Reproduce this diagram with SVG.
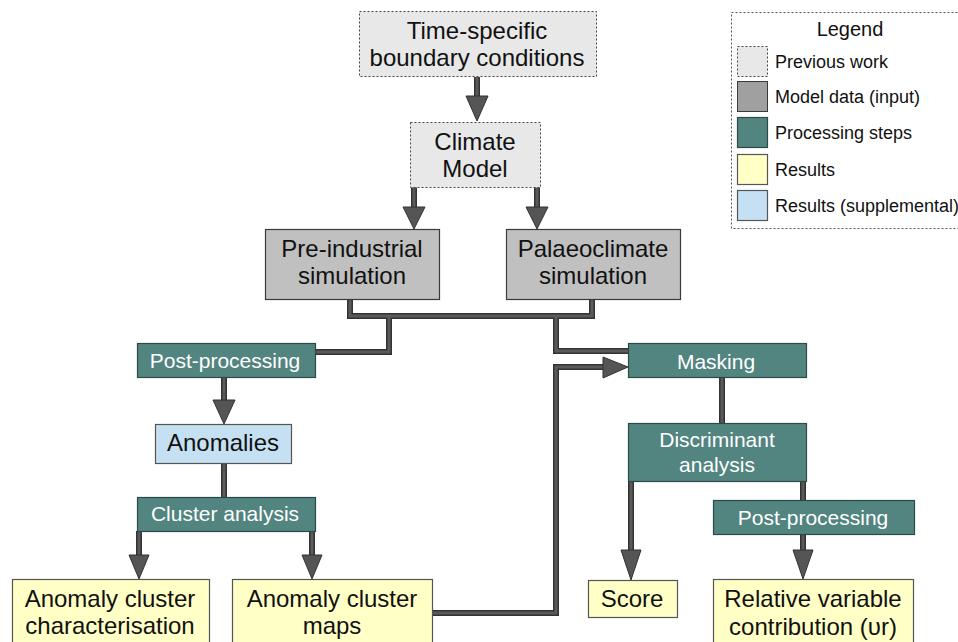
<svg xmlns="http://www.w3.org/2000/svg" xmlns:xlink="http://www.w3.org/1999/xlink" width="958" height="642" viewBox="0 0 958 642">
<style>
text{font-family:"Liberation Sans",Arial,sans-serif;text-anchor:middle;}
.big{font-size:24px;fill:#111;}
.wt{font-size:21px;fill:#fff;}
.lg{font-size:18px;fill:#111;text-anchor:start;}
.prev{fill:#e8e8e8;stroke:#444;stroke-width:1;stroke-dasharray:2,2;}
.model{fill:#c0c0c0;stroke:#3a3a3a;stroke-width:1.2;}
.proc{fill:#528480;stroke:#2d4a47;stroke-width:1.2;}
.res{fill:#ffffc6;stroke:#555;stroke-width:1.2;}
.sup{fill:#c6e0f3;stroke:#555;stroke-width:1.2;}
.co{fill:none;stroke:#333;stroke-width:6;}
.ci{fill:none;stroke:#5a5a5a;stroke-width:3;}
.ah{fill:#555;stroke:#333;stroke-width:1;}
</style>
<defs>
<path id="p1" d="M477,77 V98"/>
<path id="p2" d="M414,187 V209"/>
<path id="p3" d="M537,187 V209"/>
<path id="p4" d="M350,299 V316 H592 V299"/>
<path id="p5" d="M389,316 V352 H315"/>
<path id="p6" d="M556,316 V351 H628"/>
<path id="p7" d="M432,613 H556 V367 H605"/>
<path id="p8" d="M224,377 V402"/>
<path id="p9" d="M224,463 V497"/>
<path id="p10" d="M139,531 V557"/>
<path id="p11" d="M312,531 V557"/>
<path id="p12" d="M722,377 V423"/>
<path id="p13" d="M631,481 V552"/>
<path id="p14" d="M803,481 V500"/>
<path id="p15" d="M803,534 V552"/>
</defs>

<g id="connectors">
<use xlink:href="#p1" class="co"/><use xlink:href="#p2" class="co"/><use xlink:href="#p3" class="co"/>
<use xlink:href="#p4" class="co"/><use xlink:href="#p5" class="co"/><use xlink:href="#p6" class="co"/>
<use xlink:href="#p7" class="co"/><use xlink:href="#p8" class="co"/><use xlink:href="#p9" class="co"/>
<use xlink:href="#p10" class="co"/><use xlink:href="#p11" class="co"/><use xlink:href="#p12" class="co"/>
<use xlink:href="#p13" class="co"/><use xlink:href="#p14" class="co"/><use xlink:href="#p15" class="co"/>
<use xlink:href="#p1" class="ci"/><use xlink:href="#p2" class="ci"/><use xlink:href="#p3" class="ci"/>
<use xlink:href="#p4" class="ci"/><use xlink:href="#p5" class="ci"/><use xlink:href="#p6" class="ci"/>
<use xlink:href="#p7" class="ci"/><use xlink:href="#p8" class="ci"/><use xlink:href="#p9" class="ci"/>
<use xlink:href="#p10" class="ci"/><use xlink:href="#p11" class="ci"/><use xlink:href="#p12" class="ci"/>
<use xlink:href="#p13" class="ci"/><use xlink:href="#p14" class="ci"/><use xlink:href="#p15" class="ci"/>
<polygon class="ah" points="466,96 488,96 477,121"/>
<polygon class="ah" points="403,207 425,207 414,229"/>
<polygon class="ah" points="526,207 548,207 537,229"/>
<polygon class="ah" points="603,357 603,378 628,367"/>
<polygon class="ah" points="213,400 235,400 224,424"/>
<polygon class="ah" points="129,555 149,555 139,579"/>
<polygon class="ah" points="302,555 322,555 312,579"/>
<polygon class="ah" points="621,550 641,550 631,580"/>
<polygon class="ah" points="793,550 813,550 803,579"/>
</g>

<g id="n-boundary">
<rect class="prev" x="359.5" y="11.5" width="237" height="65"/>
<text class="big" x="477" y="39">Time-specific</text>
<text class="big" x="477" y="66">boundary conditions</text>
</g>
<g id="n-climate">
<rect class="prev" x="410.5" y="122.5" width="130" height="65"/>
<text class="big" x="475" y="150">Climate</text>
<text class="big" x="475" y="177">Model</text>
</g>
<g id="n-preindustrial">
<rect class="model" x="265.5" y="229.5" width="174" height="70"/>
<text class="big" x="352" y="257">Pre-industrial</text>
<text class="big" x="352" y="284">simulation</text>
</g>
<g id="n-palaeo">
<rect class="model" x="506.5" y="229.5" width="174" height="70"/>
<text class="big" x="593" y="257">Palaeoclimate</text>
<text class="big" x="593" y="284">simulation</text>
</g>
<g id="n-postproc1">
<rect class="proc" x="137.5" y="343.5" width="178" height="34"/>
<text class="wt" x="225" y="368">Post-processing</text>
</g>
<g id="n-masking">
<rect class="proc" x="628.5" y="343.5" width="178" height="34"/>
<text class="wt" x="716" y="369">Masking</text>
</g>
<g id="n-anomalies">
<rect class="sup" x="155.5" y="424.5" width="136" height="39"/>
<text class="big" x="223" y="451">Anomalies</text>
</g>
<g id="n-cluster">
<rect class="proc" x="137.5" y="497.5" width="178" height="34"/>
<text class="wt" x="225" y="521">Cluster analysis</text>
</g>
<g id="n-discriminant">
<rect class="proc" x="628.5" y="423.5" width="178" height="58"/>
<text class="wt" x="717" y="447">Discriminant</text>
<text class="wt" x="717" y="472">analysis</text>
</g>
<g id="n-postproc2">
<rect class="proc" x="713.5" y="500.5" width="201" height="34"/>
<text class="wt" x="813" y="525">Post-processing</text>
</g>
<g id="n-characterisation">
<rect class="res" x="12.5" y="579.5" width="197" height="70"/>
<text class="big" x="110" y="607">Anomaly cluster</text>
<text class="big" x="110" y="634">characterisation</text>
</g>
<g id="n-maps">
<rect class="res" x="232.5" y="579.5" width="200" height="70"/>
<text class="big" x="332" y="607">Anomaly cluster</text>
<text class="big" x="332" y="634">maps</text>
</g>
<g id="n-score">
<rect class="res" x="588.5" y="580.5" width="89" height="37"/>
<text class="big" x="632" y="607">Score</text>
</g>
<g id="n-relative">
<rect class="res" x="713.5" y="579.5" width="200" height="70"/>
<text class="big" x="813" y="607">Relative variable</text>
<text class="big" x="813" y="635">contribution (υr)</text>
</g>

<g id="legend">
<rect x="731.5" y="12.5" width="240" height="216" fill="#fff" stroke="#555" stroke-width="1" stroke-dasharray="2,2"/>
<text x="850" y="36" style="font-size:20px;fill:#111;">Legend</text>
<rect class="prev" x="737.5" y="46.5" width="30" height="30"/>
<text class="lg" x="775" y="68">Previous work</text>
<rect x="737.5" y="81.5" width="30" height="30" fill="#a0a0a0" stroke="#3a3a3a"/>
<text class="lg" x="775" y="103">Model data (input)</text>
<rect class="proc" x="737.5" y="117.5" width="30" height="30"/>
<text class="lg" x="775" y="139">Processing steps</text>
<rect class="res" x="737.5" y="154.5" width="30" height="30"/>
<text class="lg" x="775" y="176">Results</text>
<rect class="sup" x="737.5" y="190.5" width="30" height="30"/>
<text class="lg" x="775" y="212">Results (supplemental)</text>
</g>
</svg>
